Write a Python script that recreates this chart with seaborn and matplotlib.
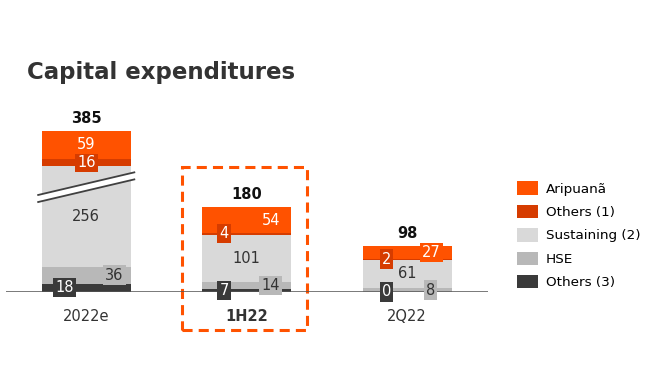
import matplotlib
matplotlib.use("Agg")
import matplotlib.pyplot as plt
from matplotlib.patches import Patch, Polygon, Rectangle
import seaborn as sns
import numpy as np
import pandas as pd

# ---- data ----
categories = ["2022e", "1H22", "2Q22"]
series_names = ["Aripuanã", "Others (1)", "Sustaining (2)", "HSE", "Others (3)"]
aripuana = [59, 54, 27]
others1 = [16, 4, 2]
sustaining = [256, 101, 61]
hse = [36, 14, 8]
others3 = [18, 7, 0]
totals = [385, 180, 98]

# the 2022e bar is drawn with an axis break inside "Sustaining"
BREAK_CUT = 42  # units removed from the drawn height of 2022e sustaining

colors = {
    "Aripuanã": "#FF5200",
    "Others (1)": "#D63C00",
    "Sustaining (2)": "#D9D9D9",
    "HSE": "#B8B8B8",
    "Others (3)": "#3A3A3A",
}
text_colors = {
    "Aripuanã": "white",
    "Others (1)": "white",
    "Sustaining (2)": "#333333",
    "HSE": "#333333",
    "Others (3)": "white",
}
label_dx = {
    "Aripuanã": [0.0, 0.15, 0.15],
    "Others (1)": [0.0, -0.14, -0.13],
    "Sustaining (2)": [0.0, 0.0, 0.0],
    "HSE": [0.175, 0.15, 0.145],
    "Others (3)": [-0.137, -0.14, -0.13],
}

# ---- layout ----
W, H = 650, 390
PX_PER_UNIT = 0.47
BASE_PX = 292
YMAX = 400
fig = plt.figure(figsize=(W / 100, H / 100), dpi=100)
ax = fig.add_axes([6 / W, (H - BASE_PX) / H, 481.5 / W, YMAX * PX_PER_UNIT / H])

values = {
    "Aripuanã": aripuana,
    "Others (1)": others1,
    "Sustaining (2)": sustaining,
    "HSE": hse,
    "Others (3)": others3,
}
drawn = {k: list(v) for k, v in values.items()}
drawn["Sustaining (2)"][0] = sustaining[0] - BREAK_CUT

# stack from the bottom: Others(3), HSE, Sustaining, Others(1), Aripuanã
stack_order = ["Others (3)", "HSE", "Sustaining (2)", "Others (1)", "Aripuanã"]
bottoms = {}
running = np.zeros(len(categories))
for s in stack_order:
    bottoms[s] = running.copy()
    running = running + np.array(drawn[s])
tops = {s: bottoms[s] + np.array(drawn[s]) for s in stack_order}

BAR_W = 0.555
# draw cumulative bars, tallest first
for s in reversed(stack_order):
    df = pd.DataFrame({"cat": categories, "top": tops[s]})
    sns.barplot(data=df, x="cat", y="top", order=categories, color=colors[s],
                saturation=1, width=BAR_W, edgecolor="none", linewidth=0, ax=ax)

ax.set_xlim(-0.5, 2.5)
ax.set_ylim(0, YMAX)
for sp in ax.spines.values():
    sp.set_visible(False)
ax.set_xticks([])
ax.set_yticks([])
ax.set_xlabel("")
ax.set_ylabel("")
ax.axhline(0, color="#555555", lw=1.1, zorder=3)

# axis break on 2022e sustaining
BREAK_Y = 223
half = 0.305
gap = 15
xl, xr = -half, half
band = Polygon([(xl, BREAK_Y - 24.5 + gap / 2), (xr, BREAK_Y + 24.5 + gap / 2),
                (xr, BREAK_Y + 24.5 - gap / 2), (xl, BREAK_Y - 24.5 - gap / 2)],
               closed=True, fc="white", ec="none", zorder=4)
ax.add_patch(band)
for sgn in (1, -1):
    ax.plot([xl, xr], [BREAK_Y - 24.5 + sgn * gap / 2, BREAK_Y + 24.5 + sgn * gap / 2],
            color="#404040", lw=1.3, zorder=5, solid_capstyle="butt")

# segment labels
for s in stack_order:
    for i, cat in enumerate(categories):
        mid = (bottoms[s][i] + tops[s][i]) / 2
        ax.text(i + label_dx[s][i], mid, str(values[s][i]), ha="center", va="center",
                fontsize=10.5, color=text_colors[s], zorder=6,
                bbox=dict(boxstyle="square,pad=0.15", fc=colors[s], ec="none"))

# totals
for i, t in enumerate(totals):
    ax.annotate(str(t), xy=(i, tops["Aripuanã"][i]), xytext=(0, 9),
                textcoords="offset points", ha="center", va="center",
                fontsize=10.5, fontweight="bold", color="#111111")

# category labels
for i, cat in enumerate(categories):
    ax.annotate(cat, xy=(i, 0), xytext=(0, -17.5), textcoords="offset points",
                ha="center", va="center", fontsize=10.5, color="#333333",
                fontweight="bold" if cat == "1H22" else "normal")

# highlight box around 1H22
px = lambda p: (p - 86) / 160.5
rect = Rectangle((px(182), -(330 - BASE_PX) / PX_PER_UNIT),
                 px(307) - px(182), (330 - 167) / PX_PER_UNIT,
                 fill=False, ec="#FF5200", lw=2.2, linestyle=(0, (3.3, 2.0)),
                 clip_on=False, zorder=2)
ax.add_patch(rect)

# title
fig.text(27 / W, 1 - 73 / H, "Capital expenditures", fontsize=16.5, fontweight="bold",
         color="#333333", ha="left", va="center")

# legend
handles = [Patch(fc=colors[s], ec="none") for s in series_names]
fig.legend(handles, series_names, loc="upper left", bbox_to_anchor=(512 / W, 1 - 176 / H),
           frameon=False, fontsize=9.7, handlelength=1.55, handleheight=1.15,
           labelspacing=0.68, handletextpad=0.55, borderaxespad=0)

fig.savefig("out.png", dpi=100)
